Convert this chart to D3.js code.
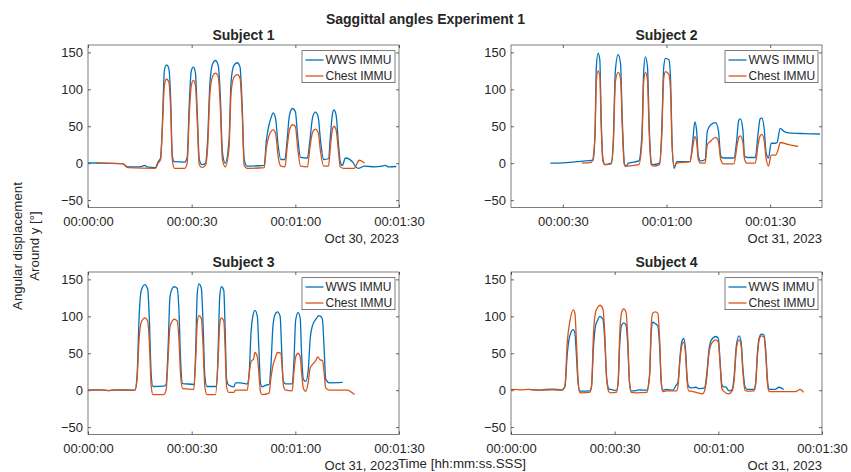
<!DOCTYPE html>
<html><head><meta charset="utf-8">
<script src="https://cdn.jsdelivr.net/npm/d3@7"></script>
<style>body{margin:0;background:#fff}svg{display:block}text{font-family:"Liberation Sans",Arial,Helvetica,sans-serif;fill:#262626}</style>
</head><body>
<script>
// ---- data (t in seconds, value in degrees) ----
const subjects = ["Subject 1","Subject 2","Subject 3","Subject 4"];
const seriesNames = ["WWS IMMU","Chest IMMU"];
const dateLabels = ["Oct 30, 2023","Oct 31, 2023","Oct 31, 2023","Oct 31, 2023"];
const xDomains = [[0,90],[15,105],[0,90],[0,90]];
const xTickSeconds = [0,30,60,90];
const yTicks = [-50,0,50,100,150];
const yDomain = [-60,160];

const s1Wws = [[0,0.5],[5,0],[10,-0.5],[11.5,-5],[15,-5],[16.5,-3],[17,-5],[19.5,-6],[20.3,2],[21,7],[21.5,50],[22.1,125],[22.7,133],[23.4,128],[23.9,90],[24.4,10],[25,2],[28,1.5],[28.7,8],[29.3,80],[29.9,125],[30.5,130],[31.1,122],[31.6,70],[32.2,5],[33,-2],[34,0],[34.6,30],[35.3,110],[36.1,135],[36.9,139],[37.7,132],[38.3,90],[38.9,15],[39.7,0],[40.8,30],[41.4,110],[42.2,132],[43.2,136],[44.0,130],[44.6,80],[45.2,5],[46,-4],[51,-3],[51.6,30],[52.3,50],[53,62],[53.6,68],[54.3,60],[55,25],[55.8,5],[57,5],[57.6,30],[58.3,65],[59.2,74],[60,70],[60.7,35],[61.5,8],[63.5,7],[64.2,30],[65,62],[65.8,69],[66.6,63],[67.3,30],[68.2,5],[69.6,6],[70.2,40],[70.8,68],[71.2,72],[71.8,65],[72.5,25],[73,2],[73.6,-3],[74.5,7],[76.5,2],[77.5,-5],[78.2,-7],[80,-4],[83,-5],[85,-4],[86,-3],[87,-5],[89.2,-4.5]];
const s1Chest = [[2.5,0],[10,-0.5],[11.5,-6],[19.5,-7],[20.3,0],[21,5],[21.5,45],[22.1,105],[22.7,114],[23.4,110],[23.9,75],[24.4,5],[25,-7],[28,-7],[28.7,0],[29.3,65],[29.9,105],[30.5,112],[31.1,105],[31.6,60],[32.2,-2],[33,-6],[34,-3],[34.6,20],[35.3,95],[36.1,118],[36.9,122],[37.7,117],[38.3,75],[38.9,5],[39.7,-5],[40.8,20],[41.4,95],[42.2,116],[43.2,120],[44.0,115],[44.6,70],[45.2,-3],[46,-7],[51,-6],[51.6,20],[52.3,36],[53,43],[53.6,45],[54.3,40],[55,10],[55.8,-4],[57,-5],[57.6,20],[58.3,45],[59.2,52],[60,50],[60.7,20],[61.5,-4],[63.5,-5],[64.2,20],[65,42],[65.8,46],[66.6,42],[67.3,15],[68.2,-4],[69.6,-4],[70.2,25],[70.8,47],[71.2,50],[71.8,45],[72.5,15],[73,-5],[74,-7],[77,-7],[78.5,4],[79.5,2],[80,0]];

const s2Wws = [[26.4,0],[30,0.5],[34,2],[37.8,3.5],[38.8,4],[39.3,40],[39.7,130],[40.2,149],[40.7,140],[41.1,60],[41.6,5],[42.2,-2],[44,0],[44.6,30],[45.2,125],[46,147],[46.7,135],[47.2,60],[47.8,0],[48.2,-4.5],[49,0],[52,3],[52.9,40],[53.4,125],[53.9,144],[54.5,130],[55,50],[55.6,0],[56,-2],[58,0],[58.6,40],[59.2,130],[59.7,142],[60.7,140],[61.2,110],[61.6,30],[62.2,-7],[63,2],[66.8,2],[67.6,30],[68.2,56],[68.7,45],[69.2,10],[69.9,3],[71.2,5],[71.8,43],[72.8,52],[74.2,55],[75,45],[75.7,10],[76.5,7],[79.5,7],[80.3,30],[80.9,58],[81.4,60],[82.1,45],[82.6,10],[83.3,7.7],[85.7,7.7],[86.5,40],[87.1,60],[87.6,61],[88.3,45],[88.8,15],[89.5,7],[90.3,27],[91.4,27],[92,28],[92.9,47],[94,43],[95.3,41],[100,40],[104.4,39.5]];
const s2Chest = [[35.5,0],[38.3,1],[39.3,35],[39.7,110],[40.2,125],[40.7,118],[41.1,50],[41.6,3],[42.2,-2],[44,-1],[44.6,25],[45.2,110],[46,123],[46.7,115],[47.2,50],[47.8,-2],[48.3,-4],[52,-2],[52.9,30],[53.4,110],[53.9,123],[54.5,112],[55,40],[55.6,-2],[56.2,-4],[58,-2],[58.6,35],[59.2,115],[59.7,124],[60.7,120],[61.2,95],[61.6,25],[62.2,-4],[63,0],[66.8,2],[67.6,22],[68.2,36],[68.7,30],[69.2,5],[69.9,0],[71.2,0],[71.8,25],[72.8,30],[74.2,35],[75,30],[75.7,5],[76.5,-1],[79.5,-1],[80.3,20],[80.9,35],[81.4,37],[82.1,28],[82.6,5],[83.3,0],[85.7,0],[86.5,25],[87.1,37],[87.6,39],[88.3,30],[88.8,8],[89.5,-4],[90.3,11],[91.6,11],[92.4,20],[92.9,28],[95.3,25],[98.1,22.6]];

const s3Wws = [[0,0],[3,0.5],[6,-0.5],[9,0.5],[13.6,0],[14.2,20],[14.8,100],[15.4,135],[16.5,143],[17.3,136],[17.8,90],[18.3,20],[18.8,5],[21.9,5.5],[22.6,8],[23.2,60],[23.7,125],[24.3,137],[24.9,140],[25.8,138],[26.3,110],[26.8,40],[27.4,9],[30.6,7.7],[30.7,7],[31.2,60],[31.6,130],[32.1,144],[32.8,138],[33.3,90],[33.8,20],[34.4,5],[36.9,5],[37.2,5],[37.7,60],[38.1,125],[38.6,140],[39.3,135],[39.7,80],[40.1,15],[40.7,7],[42.2,4.5],[42.7,10],[44.1,10],[46.1,8.6],[46.6,20],[47.2,80],[47.7,100],[48.3,108],[49,100],[49.5,50],[49.9,10],[50.4,4.5],[51.5,7],[52.4,7.7],[52.9,30],[53.5,85],[54.1,102],[54.8,106],[55.6,100],[56,60],[56.5,12],[57.2,8.6],[59.1,8.6],[59.6,40],[60.1,95],[60.8,105],[61.4,98],[61.8,50],[62.3,15],[63,12],[63.7,25],[64.3,70],[65,88],[65.9,96],[66.9,101],[67.8,97],[68.3,60],[68.8,15],[69.8,10],[73.7,10.5]];
const s3Chest = [[0,0],[3,0.5],[6,-0.5],[8,0.5],[10,0],[13.6,0],[14.2,15],[14.8,70],[15.4,92],[16.5,98],[17.3,93],[17.8,60],[18.3,5],[18.8,-6],[21.9,-6],[22.6,0],[23.2,45],[23.7,85],[24.3,93],[24.9,96],[25.8,94],[26.3,70],[26.8,20],[27.4,2],[30.6,1],[31.2,45],[31.6,90],[32.1,101],[32.8,97],[33.3,60],[33.8,5],[34.4,-6],[36.9,-6],[37.7,45],[38.1,88],[38.6,98],[39.3,94],[39.7,55],[40.1,5],[40.7,-3],[42.2,-3],[42.7,0],[46.1,0],[46.6,20],[47.2,39],[47.9,42],[48.3,51],[49,45],[49.5,20],[49.9,-2],[50.4,-6],[52.4,-4],[52.9,15],[53.5,33],[54.3,45],[54.8,51],[55.8,50],[56.2,30],[56.6,5],[57.2,0],[59.1,-1],[59.6,25],[60.1,45],[60.8,50],[61.4,45],[61.8,25],[62.3,3],[63,-1.5],[63.7,10],[64.3,30],[65,35],[65.9,40],[66.5,45],[67.2,41],[67.9,40],[68.3,25],[68.8,3],[69.8,0],[72,0],[75.1,0],[76,-2],[77.1,-6]];

const s4Wws = [[5.1,1],[8,0],[10,1],[12,1.5],[14.7,0.5],[15.6,5],[16.3,50],[17.1,75],[18,82],[18.5,77],[18.9,50],[19.4,10],[19.9,-1],[20.4,-1.3],[22.8,-1],[23.3,5],[23.9,60],[24.5,88],[25.1,95],[25.7,100],[26.6,96],[27.1,70],[27.7,15],[28.3,2],[28.8,1],[30.5,-0.5],[31,10],[31.5,65],[32,88],[32.6,91],[33.3,88],[33.8,60],[34.3,10],[34.8,-1],[36.2,-0.5],[37,0.5],[38.2,0],[39.3,0],[40.1,20],[40.6,80],[41,92],[41.8,90],[42.5,87],[43,60],[43.5,10],[43.9,0],[44.9,1],[46.8,0],[47.9,7.5],[48.3,10],[48.9,45],[49.4,65],[50,70],[50.5,55],[51,15],[51.4,5],[52.1,3],[53.5,4],[54.5,2],[56,3],[56.6,20],[57.3,55],[58,68],[59.3,72.7],[60,70],[60.5,40],[61,8],[61.5,4.5],[62.1,4.5],[63.1,-1],[64,1],[64.6,20],[65.2,60],[66,73.6],[66.6,65],[67.1,30],[67.7,5],[68.4,1],[70.3,1],[70.8,10],[71.3,50],[71.8,70],[72.4,76],[73.2,75],[73.7,55],[74.2,15],[74.6,2],[75.1,1],[76.5,1],[77.5,4],[78.9,1]];
const s4Chest = [[0,1],[3,0.5],[5,1],[8,0],[12,0.5],[14.7,0],[15.6,5],[16.3,66],[17.1,95],[18,108.7],[18.5,104],[18.9,70],[19.4,15],[19.9,-3],[20.4,-3.6],[22.8,-3],[23.3,5],[23.9,80],[24.5,106],[25.1,112],[25.7,115],[26.6,110],[27.1,80],[27.7,15],[28.3,-2],[28.8,-3.6],[30.5,-3],[31,10],[31.5,80],[32,105],[32.6,110],[33.3,105],[33.8,70],[34.3,10],[34.8,-3],[36.2,-3.6],[39.3,-3],[40.1,20],[40.6,90],[41,104],[41.8,106],[42.5,104],[43,70],[43.5,10],[43.9,-2],[44.9,-1],[47.9,-1],[48.3,5],[48.9,40],[49.4,60],[50,65],[50.5,50],[51,10],[51.4,-1],[52.1,-1.3],[55.4,-5],[56,-1],[56.6,15],[57.3,50],[58,63],[59.3,68],[60,65],[60.5,35],[61,3],[61.5,-1.3],[63,-5],[64,-1],[64.6,15],[65.2,55],[66,68],[66.6,60],[67.1,25],[67.7,0],[68.4,-1.3],[70.3,-1],[70.8,8],[71.3,45],[71.8,68],[72.4,73.6],[73.2,72],[73.7,50],[74.2,10],[74.6,-1],[75.1,-2],[79,-2],[82.3,-2],[83.7,1],[84.7,-3]];

const wwsSeries = [s1Wws, s2Wws, s3Wws, s4Wws];
const chestSeries = [s1Chest, s2Chest, s3Chest, s4Chest];
const baseDates = [Date.UTC(2023,9,30), Date.UTC(2023,9,31), Date.UTC(2023,9,31), Date.UTC(2023,9,31)];

// ---- layout ----
const W = 851, H = 472;
const colX = [88, 511], rowY = [45, 272], aw = 311, ah = 162.5;
const colors = ["#0072BD", "#D95319"];

const svg = d3.select("body").append("svg").attr("width", W).attr("height", H);
svg.append("rect").attr("width", W).attr("height", H).attr("fill", "#fff");

svg.append("text").attr("x", 425.5).attr("y", 24).attr("text-anchor", "middle")
  .style("font-weight", "bold").style("font-size", "14px").text("Saggittal angles Experiment 1");

const yl = svg.append("g").attr("transform", "translate(0,246) rotate(-90)");
yl.append("text").attr("x", 0).attr("y", 22).attr("text-anchor", "middle").style("font-size", "13.3px").text("Angular displacement");
yl.append("text").attr("x", 0).attr("y", 39).attr("text-anchor", "middle").style("font-size", "13.3px").text("Around y [°]");

svg.append("text").attr("x", 462).attr("y", 468).attr("text-anchor", "middle").style("font-size", "13.3px").text("Time [hh:mm:ss.SSS]");

const fmt = d3.utcFormat("%H:%M:%S");

subjects.forEach((name, i) => {
  const ox = colX[i % 2], oy = rowY[Math.floor(i / 2)];
  const base = baseDates[i];
  const x = d3.scaleUtc().domain(xDomains[i].map(s => new Date(base + s * 1000))).range([0, aw]);
  const y = d3.scaleLinear().domain(yDomain).range([ah, 0]);
  const g = svg.append("g").attr("transform", `translate(${ox},${oy})`);
  const tv = xTickSeconds.filter(s => s >= xDomains[i][0] && s <= xDomains[i][1]).map(s => new Date(base + s * 1000));

  const styleAxis = (sel, showText) => {
    sel.select(".domain").remove();
    sel.selectAll(".tick line").attr("stroke", "#262626").attr("stroke-width", 0.7);
    sel.selectAll(".tick text").style("font-size", "13px").attr("fill", "#262626").style("display", showText ? null : "none");
  };
  g.append("g").attr("transform", `translate(0,${ah})`)
    .call(d3.axisBottom(x).tickValues(tv).tickFormat(fmt).tickSize(-3).tickPadding(9.5)).call(s => styleAxis(s, true));
  g.append("g").call(d3.axisTop(x).tickValues(tv).tickSize(-3)).call(s => styleAxis(s, false));
  g.append("g").call(d3.axisLeft(y).tickValues(yTicks).tickSize(-3).tickPadding(5)).call(s => styleAxis(s, true));
  g.append("g").attr("transform", `translate(${aw},0)`).call(d3.axisRight(y).tickValues(yTicks).tickSize(-3)).call(s => styleAxis(s, false));
  g.selectAll(".tick text").attr("font-family", null);

  g.append("rect").attr("x", 0).attr("y", 0).attr("width", aw).attr("height", ah)
    .attr("fill", "none").attr("stroke", "#262626").attr("stroke-width", 0.6);

  const line = d3.line().x(d => x(new Date(base + d[0] * 1000))).y(d => y(d[1])).curve(d3.curveMonotoneX);
  [wwsSeries[i], chestSeries[i]].forEach((data, k) => {
    g.append("path").datum(data).attr("d", line).attr("fill", "none")
      .attr("stroke", colors[k]).attr("stroke-width", 1.3).attr("stroke-linejoin", "round");
  });

  g.append("text").attr("x", aw / 2).attr("y", -5).attr("text-anchor", "middle")
    .style("font-weight", "bold").style("font-size", "14px").text(name);
  g.append("text").attr("x", aw).attr("y", ah + 35.5).attr("text-anchor", "end")
    .style("font-size", "13px").text(dateLabels[i]);

  // legend
  const lw = 93, lh = 32;
  const lg = g.append("g").attr("transform", `translate(${aw - 4 - lw},${5.7})`);
  lg.append("rect").attr("width", lw).attr("height", lh).attr("fill", "#fff").attr("stroke", "#262626").attr("stroke-width", 0.6);
  seriesNames.forEach((s, k) => {
    const cy = 9.3 + k * 16;
    lg.append("line").attr("x1", 3.5).attr("x2", 21.5).attr("y1", cy).attr("y2", cy).attr("stroke", colors[k]).attr("stroke-width", 1.3);
    lg.append("text").attr("x", 23.5).attr("y", cy + 4.2).style("font-size", "12px").attr("fill", "#000").text(s);
  });
});
</script>
</body></html>
